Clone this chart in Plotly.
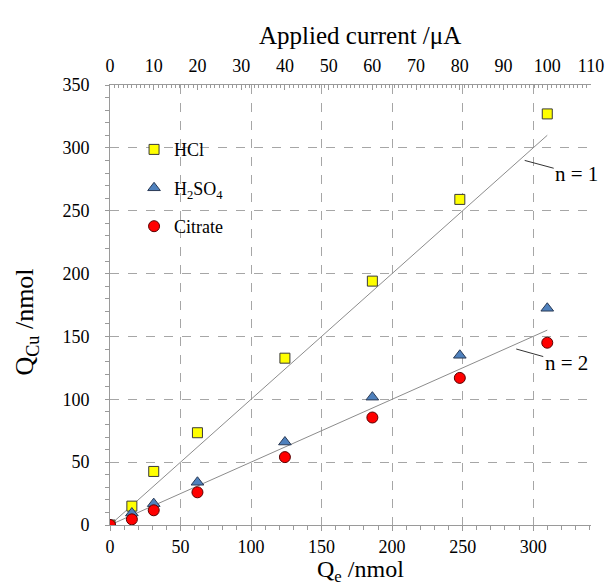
import plotly.graph_objects as go

# ---- data ----
qe_nmol = [0, 15.5, 31, 62, 124, 186, 248, 310]
current_uA = [0, 5, 10, 20, 40, 60, 80, 100]
hcl = [0, 15, 42.6, 73.4, 132.7, 194, 259, 327]
h2so4 = [0, 9.5, 17, 34, 66, 101.7, 135, 172.4]
citrate = [0, 4.5, 11.7, 26, 54, 85.5, 117, 145]

fit_x = [0, 310]
fit_n1 = [0, 310]
fit_n2 = [0, 155]

FONT = "Liberation Serif, Times New Roman, serif"
GRID = "#a6a6a6"
AXIS = "#9a9a9a"

fig = go.Figure()

# fit lines
fig.add_trace(go.Scatter(x=fit_x, y=fit_n1, mode="lines", line=dict(color="#8c8c8c", width=1),
                         showlegend=False, hoverinfo="skip"))
fig.add_trace(go.Scatter(x=fit_x, y=fit_n2, mode="lines", line=dict(color="#8c8c8c", width=1),
                         showlegend=False, hoverinfo="skip"))

# data series
fig.add_trace(go.Scatter(x=qe_nmol, y=hcl, mode="markers", name="HCl", legendgroup="a",
                         marker=dict(symbol="square", size=10, color="#FFFF00",
                                     line=dict(color="#3a3a3a", width=1))))
fig.add_trace(go.Scatter(x=qe_nmol, y=h2so4, mode="markers", name="H<sub>2</sub>SO<sub>4</sub>",
                         legendgroup="b",
                         marker=dict(symbol="triangle-up", size=11, color="#4F81BD",
                                     line=dict(color="#2a3a55", width=1))))
fig.add_trace(go.Scatter(x=qe_nmol, y=citrate, mode="markers", name="Citrate", legendgroup="c",
                         marker=dict(symbol="circle", size=11, color="#FF0000",
                                     line=dict(color="#5a0000", width=1))))

# invisible trace on the top (current) axis
fig.add_trace(go.Scatter(x=current_uA, y=hcl, mode="markers", xaxis="x2",
                         marker=dict(opacity=0), showlegend=False, hoverinfo="skip"))

TICKFONT = dict(size=18, family=FONT, color="black")

fig.update_layout(
    width=616, height=586,
    margin=dict(l=110, r=16, t=85, b=61),
    paper_bgcolor="white", plot_bgcolor="white",
    font=dict(family=FONT, size=18, color="black"),
    showlegend=True,
    legend=dict(x=0.05, y=0.895, xanchor="left", yanchor="top",
                bgcolor="rgba(0,0,0,0)", font=dict(size=18, family=FONT, color="black"),
                tracegroupgap=12, itemwidth=30),
    xaxis=dict(range=[0, 341], tick0=0, dtick=50, showgrid=True, gridcolor=GRID,
               griddash="dash", gridwidth=1, zeroline=False,
               showline=True, linecolor=AXIS, linewidth=1,
               ticks="outside", ticklen=5, tickcolor=AXIS,
               minor=dict(dtick=10, ticks="outside", ticklen=4, tickcolor=AXIS, showgrid=False),
               ticklabelstandoff=0, tickfont=TICKFONT),
    xaxis2=dict(range=[0, 110], overlaying="x", side="top", tick0=0, dtick=10,
                showgrid=False, zeroline=False, showline=True, linecolor=AXIS, linewidth=1,
                ticks="inside", ticklen=5, tickcolor=AXIS,
                minor=dict(dtick=1, ticks="inside", ticklen=3, tickcolor=AXIS, showgrid=False),
                ticklabelstandoff=5, tickfont=TICKFONT),
    yaxis=dict(range=[0, 350], tick0=0, dtick=50, showgrid=True, gridcolor=GRID,
               griddash="dash", gridwidth=1, zeroline=False,
               showline=True, linecolor=AXIS, linewidth=1,
               ticks="outside", ticklen=4, tickcolor=AXIS,
               minor=dict(dtick=10, ticks="outside", ticklen=4, tickcolor=AXIS, showgrid=False),
               ticklabelstandoff=12, tickfont=TICKFONT),
    annotations=[
        dict(text="Applied current /\u03bcA", xref="paper", yref="paper", x=0.52, y=1.0,
             xanchor="center", yanchor="middle", yshift=50, showarrow=False,
             font=dict(size=25, family=FONT, color="black")),
        dict(text="Q<sub>e</sub> /nmol", xref="paper", yref="paper", x=0.52, y=0,
             xanchor="center", yanchor="middle", yshift=-46, showarrow=False,
             font=dict(size=24, family=FONT, color="black")),
        dict(text="Q<sub>Cu</sub> /nmol", xref="paper", yref="paper", x=0, y=0.46,
             xanchor="center", yanchor="middle", xshift=-84, textangle=-90, showarrow=False,
             font=dict(size=26, family=FONT, color="black")),
        dict(text="n = 1", x=294, y=290, ax=52, ay=14, showarrow=True, arrowhead=0,
             arrowwidth=1, arrowcolor="#333333", font=dict(size=21, family=FONT, color="black")),
        dict(text="n = 2", x=288, y=140, ax=50, ay=14, showarrow=True, arrowhead=0,
             arrowwidth=1, arrowcolor="#333333", font=dict(size=21, family=FONT, color="black")),
    ],
)

fig.write_html("out.html")
